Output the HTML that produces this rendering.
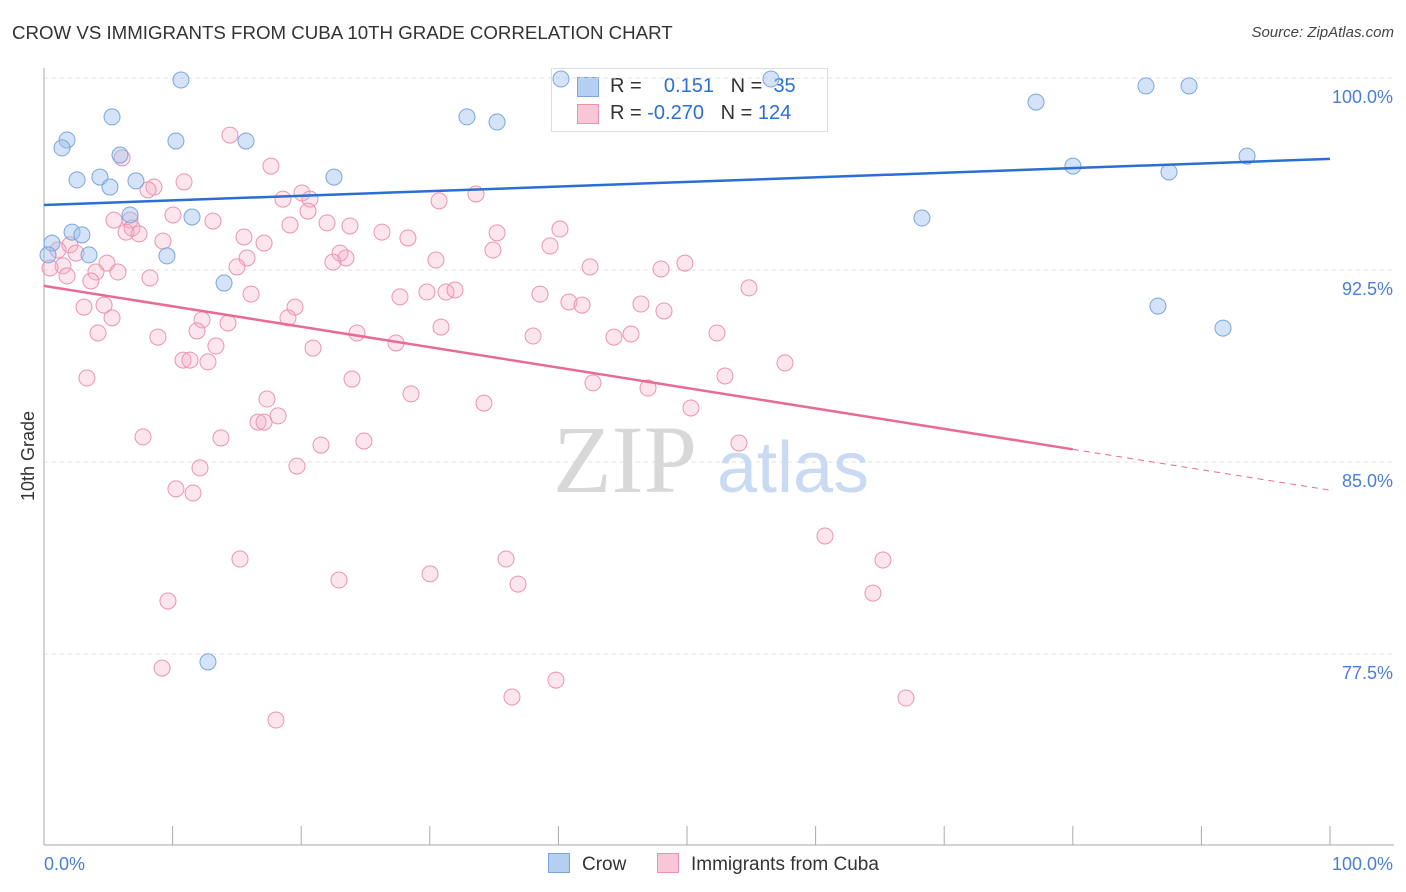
<!DOCTYPE html>
<html><head><meta charset="utf-8">
<style>
body{margin:0;background:#fff;font-family:"Liberation Sans",sans-serif;}
#wrap{position:relative;width:1406px;height:892px;overflow:hidden;}
.t{position:absolute;white-space:nowrap;}
</style></head>
<body>
<div id="wrap">
<div class="t" style="left:12px;top:22px;font-size:18.7px;color:#333;">CROW VS IMMIGRANTS FROM CUBA 10TH GRADE CORRELATION CHART</div>
<div class="t" style="right:12px;top:24px;font-size:15px;color:#444;font-style:italic;">Source: ZipAtlas.com</div>
<div class="t" style="left:551px;top:68px;width:275px;height:62px;border:1px solid #ddd;background:rgba(255,255,255,0.9);font-size:20px;">
  <div style="position:absolute;left:25px;top:8px;width:20px;height:18px;background:#b5cff3;border:1px solid #7aa6de;"></div>
  <div style="position:absolute;left:58px;top:6px;color:#333;">R = &nbsp;&nbsp;<span style="color:#2a6fd4">&nbsp;0.151</span>&nbsp;&nbsp;&nbsp;N = &nbsp;<span style="color:#2a6fd4">35</span></div>
  <div style="position:absolute;left:25px;top:35px;width:20px;height:18px;background:#f8c6d6;border:1px solid #eb94b2;"></div>
  <div style="position:absolute;left:58px;top:33px;color:#333;">R = <span style="color:#2a6fd4">-0.270</span>&nbsp;&nbsp;&nbsp;N = <span style="color:#2a6fd4">124</span></div>
</div>
<svg id="svg" width="1406" height="892" style="position:absolute;left:0;top:0"></svg>
</div>
<script>
const crowX=[10.65,5.29,1.79,1.40,10.26,15.71,5.91,2.57,4.35,5.13,7.15,22.55,6.69,11.51,2.18,2.95,0.62,3.50,9.56,14.00,12.75,32.89,35.23,40.20,56.53,77.14,85.69,89.04,80.01,87.48,93.55,68.27,86.62,91.68,0.31];
const crowY=[99.92,98.48,97.58,97.27,97.54,97.54,96.99,96.02,96.13,95.74,95.98,96.13,94.65,94.57,93.98,93.87,93.55,93.09,93.05,91.99,77.19,98.48,98.28,99.96,99.96,99.06,99.69,99.69,96.56,96.33,96.95,94.53,91.09,90.23,93.09];
const cubaX=[14.46,6.07,17.65,10.89,8.55,8.09,20.06,18.58,20.68,33.59,30.72,20.53,10.03,5.44,6.69,13.14,22.01,19.13,23.79,6.84,6.38,7.39,40.12,26.28,35.23,15.55,28.30,17.11,9.25,2.02,39.35,34.91,1.09,2.49,23.02,23.48,15.79,22.47,4.90,30.48,1.48,0.47,15.01,42.46,47.98,49.84,4.04,5.75,1.79,8.24,3.65,16.10,27.68,29.78,31.26,31.96,38.57,40.82,41.84,54.82,19.52,46.42,48.21,3.11,4.67,5.29,12.29,14.31,18.97,30.87,11.90,24.34,4.20,38.03,44.32,45.65,52.33,27.37,8.86,13.37,20.92,10.81,11.35,12.75,57.62,3.34,23.95,42.69,52.95,46.97,28.54,17.34,34.21,50.31,18.20,16.64,17.11,7.70,13.76,54.04,21.54,24.88,12.13,19.67,10.26,11.59,60.73,15.24,35.93,65.24,22.94,30.02,36.86,9.64,64.46,9.18,39.81,36.39,67.03,18.04];
const cubaY=[97.77,96.88,96.56,95.94,95.74,95.63,95.51,95.27,95.27,95.47,95.20,94.80,94.65,94.45,94.45,94.41,94.34,94.26,94.22,94.14,93.98,93.91,94.10,93.98,93.95,93.79,93.75,93.55,93.63,93.48,93.44,93.28,93.28,93.16,93.16,92.97,92.97,92.81,92.77,92.89,92.66,92.58,92.62,92.62,92.54,92.77,92.42,92.42,92.27,92.19,92.07,91.56,91.45,91.64,91.64,91.72,91.56,91.25,91.13,91.80,91.05,91.17,90.90,91.05,91.13,90.63,90.55,90.43,90.63,90.27,90.12,90.04,90.04,89.92,89.88,90.00,90.04,89.65,89.88,89.53,89.45,88.98,88.98,88.91,88.87,88.28,88.24,88.09,88.36,87.89,87.66,87.46,87.30,87.11,86.80,86.56,86.56,85.98,85.94,85.74,85.66,85.82,84.77,84.84,83.95,83.79,82.11,81.21,81.21,81.17,80.39,80.63,80.23,79.57,79.88,76.95,76.48,75.82,75.78,74.92];
const yTicks=[100,92.5,85,77.5];
const yTickLabels=["100.0%","92.5%","85.0%","77.5%"];
const crowTrend=[95.04,96.84];
const cubaTrend=[91.88,83.9];

const NS="http://www.w3.org/2000/svg";
const svg=document.getElementById('svg');
const X=v=>44+v*12.86;
const Y=v=>78+(100-v)*25.6;
function mk(tag,attrs,parent){const e=document.createElementNS(NS,tag);for(const k in attrs)e.setAttribute(k,attrs[k]);(parent||svg).appendChild(e);return e;}

yTicks.forEach((t,i)=>{
  const g=mk('line',{x1:44,x2:1394,y1:Y(t),y2:Y(t),stroke:'#e2e2e2','stroke-dasharray':'4,4'});
  
  
  const tx=mk('text',{x:1393,y:Y(t)+25,'text-anchor':'end','font-size':18,fill:'#4a7fd4','font-family':'Liberation Sans, sans-serif'});
  tx.textContent=yTickLabels[i];
  
  
});
let a=mk('line',{x1:44,x2:44,y1:68,y2:845,stroke:'#aaa'});


a=mk('line',{x1:44,x2:1394,y1:845,y2:845,stroke:'#aaa'});


for(let i=0;i<=10;i++){const t=mk('line',{x1:X(i*10),x2:X(i*10),y1:826,y2:845,stroke:'#aaa'});

}
[['0.0%',44,'start'],['100.0%',1393,'end']].forEach(([s,x,an])=>{const t=mk('text',{x:x,y:870,'text-anchor':an,'font-size':18,fill:'#4a7fd4','font-family':'Liberation Sans, sans-serif'});t.textContent=s;

});
const yt=mk('text',{x:34,y:456,'text-anchor':'middle','font-size':18,fill:'#333',transform:'rotate(-90 34 456)','font-family':'Liberation Sans, sans-serif'});yt.textContent='10th Grade';



let w=mk('text',{x:553,y:492,'font-size':96,fill:'#d8d8d8','font-family':'Liberation Serif, serif'});w.textContent='ZIP';


w=mk('text',{x:717,y:492,'font-size':72,fill:'#c9daf2','font-family':'Liberation Sans, sans-serif'});w.textContent='atlas';



cubaX.forEach((x,i)=>{const c=mk('circle',{cx:X(x),cy:Y(cubaY[i]),r:8,fill:'rgba(244,170,195,0.3)',stroke:'#eb94b2','stroke-width':1});

});
crowX.forEach((x,i)=>{const c=mk('circle',{cx:X(x),cy:Y(crowY[i]),r:8,fill:'rgba(160,192,238,0.45)',stroke:'#7aa6de','stroke-width':1});

});

let l=mk('line',{x1:X(0),y1:Y(crowTrend[0]),x2:X(100),y2:Y(crowTrend[1]),stroke:'#2a6fd4','stroke-width':2.5});


const cy=v=>cubaTrend[0]+(cubaTrend[1]-cubaTrend[0])*v/100;
l=mk('line',{x1:X(0),y1:Y(cy(0)),x2:X(80),y2:Y(cy(80)),stroke:'#e86a97','stroke-width':2.5});


l=mk('line',{x1:X(80),y1:Y(cy(80)),x2:X(100),y2:Y(cy(100)),stroke:'#e86a97','stroke-width':1,'stroke-dasharray':'6,5'});


</script>
<div class="t" style="left:548px;top:853px;font-size:19px;color:#333;"><span style="display:inline-block;width:20px;height:18px;background:#b5cff3;border:1px solid #7aa6de;vertical-align:-3px;margin-right:12px;"></span>Crow</div>
<div class="t" style="left:657px;top:853px;font-size:19px;color:#333;"><span style="display:inline-block;width:20px;height:18px;background:#f8c6d6;border:1px solid #eb94b2;vertical-align:-3px;margin-right:12px;"></span>Immigrants from Cuba</div>
</body></html>
